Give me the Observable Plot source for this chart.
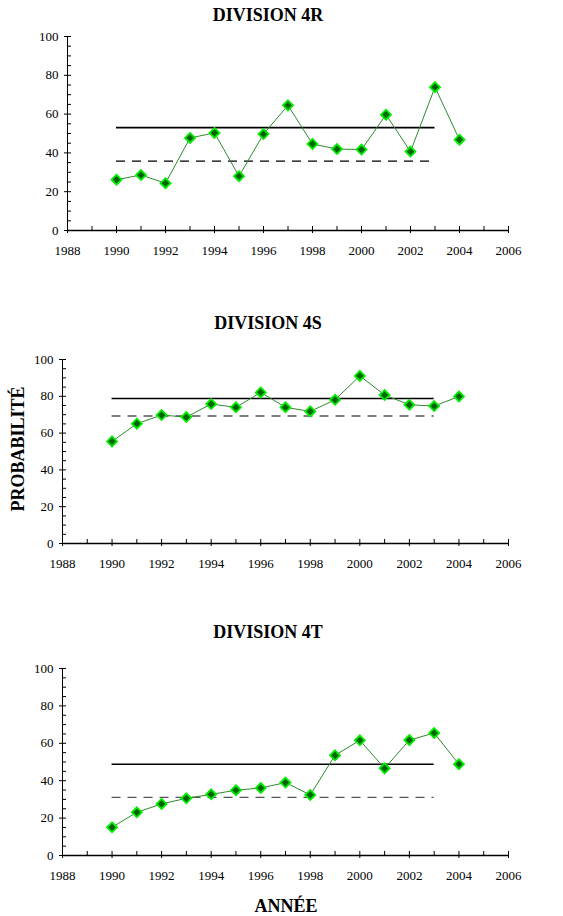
<!DOCTYPE html>
<html>
<head>
<meta charset="utf-8">
<script src="https://cdn.jsdelivr.net/npm/d3@7"></script>
<script src="https://cdn.jsdelivr.net/npm/@observablehq/plot@0.6"></script>
<style>
  html, body { margin: 0; padding: 0; background: white; }
  #wrap { position: relative; width: 563px; height: 916px; background: white; font-family: "Liberation Serif", "Times New Roman", serif; }
  #wrap svg, #wrap svg text, #wrap svg g { font-family: "Liberation Serif", "Times New Roman", serif !important; }
  #wrap svg text { font-size: 13px !important; fill: black; }
  .panel { position: absolute; left: 0; }
  .title { position: absolute; left: 0; width: 536px; text-align: center; font-weight: bold; font-size: 18px; line-height: 18px; color: black; }
  .ylab { position: absolute; font-weight: bold; font-size: 18px; line-height: 18px; white-space: nowrap; transform: translate(-50%, -50%) rotate(-90deg); }
  .xlab { position: absolute; font-weight: bold; font-size: 18px; line-height: 18px; white-space: nowrap; transform: translate(-50%, -50%); }
</style>
</head>
<body>
<div id="wrap"></div>
<script>
// ---- data ----
const divisions = ["DIVISION 4R", "DIVISION 4S", "DIVISION 4T"];
const years = [1990, 1991, 1992, 1993, 1994, 1995, 1996, 1997, 1998, 1999, 2000, 2001, 2002, 2003, 2004];
const values4R = [26.2, 28.6, 24.4, 47.7, 50.3, 28.0, 49.7, 64.5, 44.6, 42.0, 41.7, 59.7, 40.7, 73.9, 46.8];
const values4S = [55.5, 65.1, 69.8, 68.7, 75.8, 74.0, 82.1, 74.0, 71.8, 78.1, 91.1, 80.7, 75.4, 74.7, 79.9];
const values4T = [15.1, 23.1, 27.6, 30.6, 32.7, 34.9, 36.1, 39.0, 32.4, 53.6, 61.6, 46.6, 61.7, 65.5, 48.8];
const meanSolid = [53.0, 78.8, 48.8];
const meanDashed = [35.8, 69.3, 31.1];
const refStart = 1990, refEnd = 2003;
const xTicks = [1988, 1990, 1992, 1994, 1996, 1998, 2000, 2002, 2004, 2006];
const yTicks = [0, 20, 40, 60, 80, 100];
const minorX = [1988, 1989, 1990, 1991, 1992, 1993, 1994, 1995, 1996, 1997, 1998, 1999, 2000, 2001, 2002, 2003, 2004, 2005, 2006];
const minorY = [0, 5, 10, 15, 20, 25, 30, 35, 40, 45, 50, 55, 60, 65, 70, 75, 80, 85, 90, 95, 100];
const yLabel = "PROBABILITÉ";
const xLabel = "ANNÉE";

const series = [values4R, values4S, values4T];

// ---- layout (pixels) ----
const layout = [
  {top: 0,   mt: 36, h: 194, ml: 67, titleY: 15,  dash: "#000000"},
  {top: 310, mt: 49, h: 184, ml: 62, titleY: 323, dash: "#555555"},
  {top: 620, mt: 48, h: 187, ml: 62, titleY: 632, dash: "#555555"}
];
const W = 563, MR = 55, MB = 40;

const wrap = document.getElementById("wrap");

layout.forEach((cfg, i) => {
  const data = years.map((x, j) => ({x, y: series[i][j]}));
  const innerW = W - cfg.ml - MR;
  const chart = Plot.plot({
    width: W,
    height: cfg.mt + cfg.h + MB,
    marginTop: cfg.mt, marginBottom: MB, marginLeft: cfg.ml, marginRight: MR,
    style: {fontFamily: "Liberation Serif", fontSize: "13px", color: "black", background: "transparent", overflow: "visible"},
    x: {domain: [1988, 2006]},
    y: {domain: [0, 100]},
    marks: [
      Plot.axisX({ticks: xTicks, tickFormat: "d", tickSize: 3, tickPadding: 12, label: null, fontSize: 13}),
      Plot.axisY({ticks: yTicks, tickSize: 3, tickPadding: 6, label: null, fontSize: 13}),
      Plot.tickX(minorX, {x: d => d, insetTop: cfg.h - 4, stroke: "black"}),
      Plot.tickY(minorY, {y: d => d, insetRight: innerW - 4, stroke: "black"}),
      Plot.ruleX([1988], {stroke: "black"}),
      Plot.ruleY([0], {stroke: "black", strokeWidth: 1.3}),
      Plot.ruleY([{y: meanSolid[i], x1: refStart, x2: refEnd}], {y: "y", x1: "x1", x2: "x2", stroke: "black", strokeWidth: 1.7}),
      Plot.ruleY([{y: meanDashed[i], x1: refStart, x2: refEnd}], {y: "y", x1: "x1", x2: "x2", stroke: cfg.dash, strokeWidth: 1.3, strokeDasharray: "9,7"}),
      Plot.line(data, {x: "x", y: "y", stroke: "#2e8b2e", strokeWidth: 1}),
      Plot.dot(data, {x: "x", y: "y", symbol: "diamond2", r: 4.5, fill: "#006400", stroke: "#00ee00", strokeWidth: 1.8})
    ]
  });
  chart.classList.add("panel");
  chart.style.top = cfg.top + "px";
  wrap.appendChild(chart);

  const t = document.createElement("div");
  t.className = "title";
  t.style.top = (cfg.titleY - 9) + "px";
  t.textContent = divisions[i];
  wrap.appendChild(t);
});

const yl = document.createElement("div");
yl.className = "ylab";
yl.style.left = "18px";
yl.style.top = "449px";
yl.textContent = yLabel;
wrap.appendChild(yl);

const xl = document.createElement("div");
xl.className = "xlab";
xl.style.left = "286px";
xl.style.top = "906px";
xl.textContent = xLabel;
wrap.appendChild(xl);
</script>
</body>
</html>
